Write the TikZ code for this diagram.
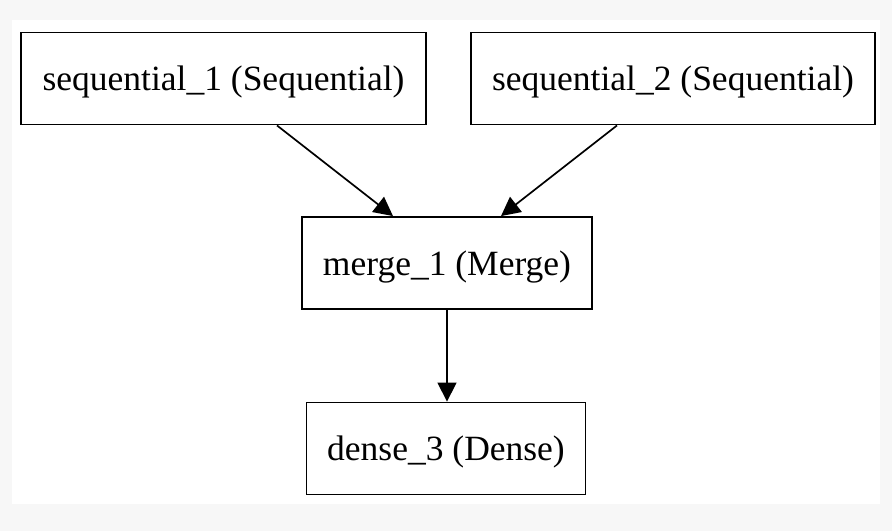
\documentclass[tikz,border=0pt]{standalone}
\usepackage{fontspec}
\setmainfont{Liberation Serif}
\usetikzlibrary{arrows.meta}

\tikzset{
	layer/.style={draw, line width=1.9pt, minimum height=92pt, inner sep=0pt, text depth=0pt,
		font=\fontsize{35.5}{40}\selectfont},
	flow/.style={line width=1.7pt, -{Triangle[length=19pt,width=19pt]}}
}

\begin{document}
\begin{tikzpicture}[x=1pt,y=-1pt]
					\fill[black!3] (0,0) rectangle (892,531);
					\fill[white] (12,20) rectangle (880,504);
					\useasboundingbox (0,0) rectangle (892,531);
					\node[layer, minimum width=405pt] (seq1) at (223.5,78.5) {sequential\_1 (Sequential)};
					\node[layer, minimum width=404pt] (seq2) at (673,78.5) {sequential\_2 (Sequential)};
					\node[layer, minimum width=290pt] (merge) at (447,263) {merge\_1 (Merge)};
					\node[layer, minimum width=279pt] (dense) at (446,448.5) {dense\_3 (Dense)};
					\draw[flow] ([xshift=53.5pt]seq1.south) -- ([xshift=-54pt]merge.north);
					\draw[flow] ([xshift=-56pt]seq2.south) -- ([xshift=54pt]merge.north);
					\draw[flow] (merge.south) -- (merge.south |- dense.north);
				\end{tikzpicture}
\end{document}
